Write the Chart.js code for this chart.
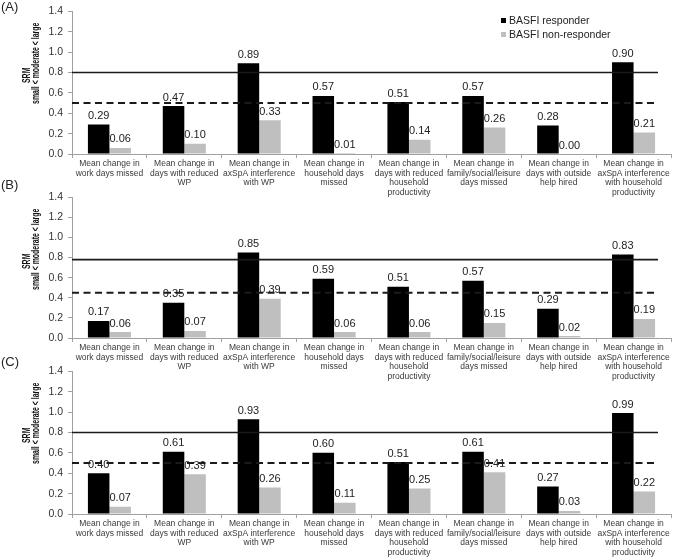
<!DOCTYPE html>
<html>
<head>
<meta charset="utf-8">
<script src="https://cdn.jsdelivr.net/npm/chart.js@4/dist/chart.umd.min.js"></script>
<style>
  body { margin: 0; background: #fff; }
  #wrap { position: relative; width: 685px; height: 557px; overflow: hidden; font-family: "Liberation Sans", Arial, sans-serif; }
  canvas { position: absolute; left: 0; }
  .tag { position: absolute; left: 1px; font-size: 13px; color: #222; line-height: 14px; }
  #legend { position: absolute; left: 501px; top: 14px; font-size: 10.5px; color: #222; line-height: 13.5px; }
  #legend .sw { display: inline-block; width: 5px; height: 5px; margin-right: 3px; vertical-align: 1px; }
</style>
</head>
<body>
<div id="wrap">
  <canvas id="chartA" width="685" height="200" style="top:0px"></canvas>
  <canvas id="chartB" width="685" height="200" style="top:186px"></canvas>
  <canvas id="chartC" width="685" height="200" style="top:360px"></canvas>
  <div class="tag" style="top:0px">(A)</div>
  <div class="tag" style="top:178px">(B)</div>
  <div class="tag" style="top:355px">(C)</div>
  <div id="legend">
    <div><span class="sw" style="background:#000"></span>BASFI responder</div>
    <div><span class="sw" style="background:#bfbfbf"></span>BASFI non-responder</div>
  </div>
</div>
<script>
const categories = [
    ["Mean change in", "work days missed"],
    ["Mean change in", "days with reduced", "WP"],
    ["Mean change in", "axSpA interference", "with WP"],
    ["Mean change in", "household days", "missed"],
    ["Mean change in", "days with reduced", "household", "productivity"],
    ["Mean change in", "family/social/leisure", "days missed"],
    ["Mean change in", "days with outside", "help hired"],
    ["Mean change in", "axSpA interference", "with household", "productivity"]
]

// SRM values per panel
const responderA = [0.29, 0.47, 0.89, 0.57, 0.51, 0.57, 0.28, 0.90]
const nonResponderA = [0.06, 0.10, 0.33, 0.01, 0.14, 0.26, 0.00, 0.21]
const responderB = [0.17, 0.35, 0.85, 0.59, 0.51, 0.57, 0.29, 0.83]
const nonResponderB = [0.06, 0.07, 0.39, 0.06, 0.06, 0.15, 0.02, 0.19]
const responderC = [0.40, 0.61, 0.93, 0.60, 0.51, 0.61, 0.27, 0.99]
const nonResponderC = [0.07, 0.39, 0.26, 0.11, 0.25, 0.41, 0.03, 0.22]

// threshold lines (large / moderate) per panel A, B, C
const largeCut = [0.8, 0.78, 0.8]
const moderateCut = [0.5, 0.45, 0.5]

const yMin = 0
const yMax = 1.4
const yStep = 0.2

const FONT = '"Liberation Sans", Arial, sans-serif'
Chart.defaults.font.family = FONT

const extras = {
    id: 'extras',
    afterDatasetsDraw(chart, args, opts) {
        const ctx = chart.ctx
        const y = chart.scales.y
        const area = chart.chartArea
        const endX = area.right - 13

        ctx.save()
        // solid line = large effect, dashed = moderate effect
        ctx.strokeStyle = '#1a1a1a'
        ctx.lineWidth = 1.6
        let py = y.getPixelForValue(opts.large)
        ctx.beginPath()
        ctx.moveTo(area.left, py)
        ctx.lineTo(endX, py)
        ctx.stroke()

        ctx.lineWidth = 2
        ctx.setLineDash([7, 4.5])
        py = y.getPixelForValue(opts.moderate)
        ctx.beginPath()
        ctx.moveTo(area.left, py)
        ctx.lineTo(endX, py)
        ctx.stroke()
        ctx.setLineDash([])

        // value labels
        ctx.font = '11px ' + FONT
        ctx.fillStyle = '#222'
        ctx.textAlign = 'center'
        ctx.textBaseline = 'bottom'
        chart.data.datasets.forEach((ds, i) => {
            chart.getDatasetMeta(i).data.forEach((bar, j) => {
                ctx.fillText(ds.data[j].toFixed(2), bar.x, bar.y - 3)
            })
        })

        // y axis title, two rotated lines (narrowed like the original)
        ctx.fillStyle = '#111'
        ctx.font = 'bold 10.5px ' + FONT
        ctx.textBaseline = 'middle'
        const titleLines = [['SRM', 27, 64], ['small < moderate < large', 36.5, 52]]
        titleLines.forEach(([txt, x, off]) => {
            ctx.save()
            ctx.translate(x, area.top + off)
            ctx.rotate(-Math.PI / 2)
            ctx.scale(0.66, 1)
            ctx.fillText(txt, 0, 0)
            ctx.restore()
        })
        ctx.restore()
    }
}

function makePanel(id, responder, nonResponder, large, moderate, bottom) {
    const canvas = document.getElementById(id)
    return new Chart(canvas, {
        type: 'bar',
        data: {
            labels: categories,
            datasets: [
                { label: 'BASFI responder', data: responder, backgroundColor: '#000000' },
                { label: 'BASFI non-responder', data: nonResponder, backgroundColor: '#bfbfbf' }
            ]
        },
        options: {
            responsive: false,
            animation: false,
            events: [],
            layout: { padding: { top: 10, right: 14, left: 0, bottom: 0 } },
            datasets: { bar: { categoryPercentage: 0.575, barPercentage: 1.0 } },
            plugins: {
                legend: { display: false },
                tooltip: { enabled: false },
                extras: { large, moderate }
            },
            scales: {
                x: {
                    grid: { drawOnChartArea: false, drawTicks: true, tickLength: 4, color: '#a0a0a0' },
                    border: { color: '#a0a0a0' },
                    ticks: {
                        autoSkip: false, maxRotation: 0, minRotation: 0, padding: 1,
                        color: '#3a3a3a',
                        font: { size: 8.5, lineHeight: 1.12 }
                    },
                    afterFit: s => { s.height = canvas.height - bottom }
                },
                y: {
                    min: yMin,
                    max: yMax,
                    grid: { drawOnChartArea: false, drawTicks: true, tickLength: 4, color: '#a0a0a0' },
                    border: { color: '#a0a0a0' },
                    ticks: {
                        stepSize: yStep, padding: 5, color: '#333',
                        font: { size: 10.5 },
                        callback: v => Number(v).toFixed(1)
                    },
                    afterFit: s => { s.width = 72 }
                }
            }
        },
        plugins: [extras]
    })
}

makePanel('chartA', responderA, nonResponderA, largeCut[0], moderateCut[0], 154)
makePanel('chartB', responderB, nonResponderB, largeCut[1], moderateCut[1], 152)
makePanel('chartC', responderC, nonResponderC, largeCut[2], moderateCut[2], 154)
</script>
</body>
</html>
